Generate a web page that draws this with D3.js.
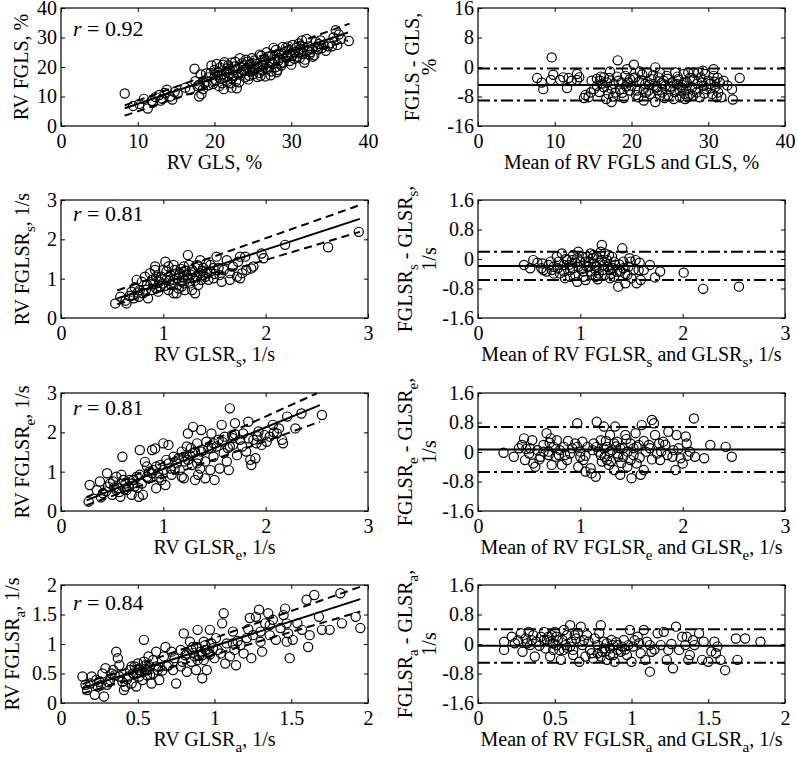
<!DOCTYPE html>
<html><head><meta charset="utf-8">
<script src="https://cdn.jsdelivr.net/npm/d3@7/dist/d3.min.js"></script>
<style>
body{margin:0;background:#fff}
svg text{font-family:"Liberation Serif","Times New Roman",Times,"DejaVu Serif",serif;fill:#000;white-space:pre}
</style>
</head><body>
<svg id="c" width="797" height="757" font-family="Liberation Serif, Times New Roman, serif"></svg>
<script>
// ---------------- DATA ----------------
// Panel 1: RV GLS (x) vs RV FGLS (y), %
const glsPts = [[8.3,11.0],[9.4,6.8],[10.2,7.5],[10.8,9.2],[11.3,5.9],[11.8,8.5],[12.3,9.8],[12.8,10.5],[13.2,9.2],[13.5,11.2],[13.8,12.3],[14.2,10.0],[14.5,9.0],[13.0,8.6],[12.0,7.9],[14.8,11.5],[15.2,11.0],
[16.2,13.0],[16.8,12.2],[17.4,19.4],[17.8,13.5],[18.0,10.0],[18.3,10.8],[18.5,12.5],[18.2,17.5],[18.7,14.5],[19.0,15.0],[19.2,16.5],[18.9,17.8],[17.5,15.2],[18.0,14.0],
[19.6,20.5],[20.0,19.0],[20.3,21.0],[20.5,17.2],[20.8,16.0],[21.0,14.5],[21.2,12.5],[21.5,18.5],[21.8,20.5],[22.0,19.2],[22.2,21.5],[20.2,15.5],[19.8,14.2],[20.6,13.5],[21.4,16.5],[22.5,17.0],[22.8,15.2],[22.2,13.0],[22.9,12.8],[23.3,23.0],[23.0,19.5],[23.5,18.0],[23.8,20.5],[24.0,16.5],[24.3,21.8],[24.6,18.5],[24.8,20.0],[25.0,17.5],[23.2,14.8],[25.3,19.2],[25.5,21.0],[25.8,18.0],[26.0,17.0],[26.3,20.5],[26.5,22.5],[26.8,25.0],[27.0,23.5],[27.2,21.5],[27.5,24.0],[27.8,22.5],[28.0,20.0],[28.2,19.0],[28.0,25.8],[28.5,23.0],[28.8,24.5],[29.0,21.5],[29.3,26.5],[29.5,24.0],[29.8,22.0],[30.0,20.8],[30.2,27.5],[30.5,25.0],[30.8,23.5],[31.0,28.0],[31.2,26.0],[31.5,24.5],[31.8,22.5],[32.0,29.5],[32.3,27.0],[32.5,25.0],[32.8,23.5],[33.2,28.5],[33.5,26.0],[33.8,29.0],[34.2,27.5],[34.5,25.5],[35.0,28.0],[35.3,27.0],[35.8,32.5],[36.2,31.0],[36.5,29.5],[37.5,28.8],[36.0,27.5],
[20.7,19.8],[21.1,20.8],[21.9,17.8],[22.4,18.8],[23.7,19.0],[24.1,22.5],[24.5,17.0],[25.2,22.2],[25.7,20.3],[26.2,18.8],[26.6,16.8],[27.1,20.0],[27.4,18.5],[27.7,26.5],[28.3,22.0],[28.7,20.5],[29.1,25.0],[29.6,27.0],[30.4,22.8],[31.4,29.0],[31.7,21.5],[32.7,26.0],[33.0,24.0],[27.3,17.2],[28.1,18.2],[24.4,15.8],[26.1,23.8],[26.9,19.3],[25.9,24.2],[19.5,18.0],[20.1,17.5],[21.7,15.0],[21.3,21.6],[23.6,21.3],[24.9,23.0],[22.6,20.2],[28.9,26.8],[30.6,26.5],[29.9,24.5],[31.1,23.0],[32.1,25.8],[33.6,27.8],[34.8,27.0],[35.5,30.0],
[19.2,13.8],[20.4,18.2],[21.0,17.5],[21.6,19.5],[22.3,16.2],[22.7,21.8],[23.1,17.4],[23.9,18.8],[24.6,20.9],[25.1,18.9],[25.6,16.6],[26.4,21.7],[26.7,19.8],[27.6,21.0],[28.4,24.6],[28.6,21.2],[29.4,23.2],[30.1,23.7],[30.9,25.6],[31.6,26.8],[32.4,24.2],[33.3,26.9],[34.0,26.4],[24.2,19.7],[22.1,14.5]];
const glsFit = [[8.3,6.0],[37.4,31.7]];
const glsHi = [[8.3,7.0],[37.6,34.7]];
const glsLo = [[8.3,3.5],[37.4,29.0]];

// Panel 2: Bland-Altman GLS (mean, difference), %
const glsBA = [[7.7,-3.0],[8.3,-4.2],[8.5,-6.0],[9.6,2.6],[9.8,-2.1],[9.5,-3.5],[10.7,-3.5],[11.1,-2.8],[11.6,-5.7],[11.8,-3.0],[12.2,-3.7],[12.9,-1.9],[12.9,-3.5],[13.8,-8.4],[14.4,-8.2],[14.7,-6.9],[15.1,-6.0],[14.8,-3.7],[15.5,-5.1],[15.9,-3.7],[16.4,-2.8],[16.7,-8.7],[17.0,-7.3],[17.4,-9.5],[17.2,-1.2],[17.7,-4.6],[18.1,-2.6],[18.2,1.8],[18.5,-6.0],[19.0,-8.4],[19.4,-0.6],[19.6,-4.2],[19.8,-6.4],[20.3,0.6],[20.5,-2.8],[20.9,-8.2],[21.1,-1.2],[21.6,-9.1],[21.8,-4.6],[22.0,-1.5],[22.2,-6.4],[22.6,-3.3],[23.1,-0.1],[23.1,-9.5],[23.3,-5.5],[23.7,-7.7],[24.2,-3.7],[24.6,-2.4],[25.0,-6.0],[25.5,-8.7],[25.7,-1.5],[25.9,-4.6],[26.3,-6.4],[26.8,-1.9],[27.0,-8.7],[27.2,-4.2],[27.4,-1.5],[27.6,-7.3],[28.1,-3.3],[28.3,-6.0],[28.7,-1.5],[28.9,-8.2],[29.2,-4.2],[29.6,-1.9],[29.8,-6.0],[30.0,-3.7],[30.5,-7.3],[30.7,-2.4],[30.9,-5.5],[31.1,-8.2],[31.5,-4.2],[33.1,-6.0],[33.2,-8.8],[34.1,-3.0],
[16.4,-5.5],[16.8,-4.2],[17.9,-6.9],[18.3,-3.7],[19.2,-2.4],[20.0,-5.1],[20.7,-6.4],[21.3,-3.7],[22.4,-7.3],[22.9,-5.1],[23.5,-2.8],[24.0,-6.9],[24.4,-5.1],[24.8,-7.7],[25.3,-4.2],[26.1,-3.3],[26.5,-5.5],[26.9,-7.3],[27.3,-8.2],[27.9,-5.5],[28.5,-6.9],[29.4,-5.1],[30.2,-4.6],[31.3,-6.9],[31.7,-8.2],[32.0,-3.7],[19.8,-3.3],[21.6,-6.0],[23.7,-1.5],[26.3,-8.2],[28.1,-1.5],[26.8,-4.2],[18.7,-4.2],[17.4,-6.0],[16.0,-2.6],[15.5,-3.2],[29.3,-1.0],[30.7,-0.6],
[15.8,-6.8],[16.2,-4.5],[17.1,-3.0],[17.6,-8.0],[18.8,-7.0],[19.3,-5.3],[20.2,-3.0],[20.6,-7.6],[21.0,-4.0],[21.4,-2.0],[21.9,-7.0],[22.3,-4.8],[22.8,-2.2],[23.4,-6.3],[23.9,-4.4],[24.3,-8.4],[24.7,-3.2],[25.1,-5.3],[25.6,-6.8],[26.0,-2.6],[26.6,-4.9],[27.1,-6.2],[27.6,-3.0],[28.0,-7.8],[28.6,-4.5],[29.0,-2.8],[29.5,-7.2],[30.3,-5.8],[30.8,-4.0],[31.2,-2.9],[32.5,-5.0],[13.2,-2.8],[14.0,-7.6]];
const glsLines = [-4.9, -0.4, -9.1]; // mean, upper LoA, lower LoA

// Panel 3: RV GLSRs vs RV FGLSRs, 1/s
const glsrsPts = [[0.53,0.37],[0.58,0.54],[0.63,0.44],[0.67,0.56],[0.69,0.67],[0.72,0.78],[0.74,0.97],[0.77,0.71],[0.80,0.63],[0.84,0.84],[0.85,0.50],[0.89,0.71],[0.90,0.88],[0.93,1.05],[0.95,0.67],[0.97,0.80],[1.00,1.22],[1.02,1.43],[1.03,0.97],[1.05,0.71],[1.07,1.09],[1.08,0.84],[1.10,0.63],[1.11,1.22],[1.13,1.01],[1.15,0.75],[1.16,1.14],[1.18,0.92],[1.20,1.31],[1.21,0.71],[1.23,1.09],[1.24,1.60],[1.26,0.88],[1.28,1.22],[1.29,1.01],[1.31,0.63],[1.33,1.35],[1.34,0.84],[1.36,1.14],[1.37,0.97],[1.39,1.27],[1.41,1.05],[1.42,1.39],[1.46,1.18],[1.49,1.01],[1.52,1.56],[1.54,1.27],[1.55,1.09],[1.57,0.92],[1.62,1.47],[1.65,1.14],[1.72,1.05],[1.73,1.43],[1.75,1.56],[1.77,1.14],[1.80,1.56],[1.86,1.26],[1.88,1.31],[1.96,1.64],[1.98,1.52],[2.19,1.86],[2.61,1.80],[2.91,2.19],
[0.79,0.92],[0.82,1.05],[0.87,1.14],[0.92,1.22],[0.98,1.05],[1.00,0.88],[1.03,1.18],[1.10,1.35],[1.15,1.09],[1.20,0.88],[1.24,1.01],[1.29,1.18],[1.34,1.31],[1.39,1.09],[1.44,0.97],[1.49,1.27],[1.59,1.22],[1.68,1.31],[1.05,1.31],[0.89,0.97],[0.93,0.75],[1.10,0.97],[1.18,0.80],[1.33,1.05],[1.28,0.71],[1.13,0.63],[0.76,0.54],[0.71,0.50],[0.64,0.37],[0.92,1.31],[1.36,1.47],[1.46,1.35],[1.65,0.97],[1.81,1.22],[1.75,1.01],
[0.83,0.72],[0.96,0.92],[1.06,0.95],[1.12,1.12],[1.19,1.05],[1.22,1.2],[1.27,1.1],[1.31,0.95],[1.38,1.2],[1.43,1.15],[1.02,0.82],[0.91,0.85],[1.25,1.35],[1.17,1.25],[0.75,0.65],[1.5,1.12]];
const glsrsFit = [[0.55,0.5],[2.92,2.52]];
const glsrsHi = [[0.55,0.7],[2.92,2.87]];
const glsrsLo = [[0.55,0.35],[2.92,2.19]];

// Panel 4: Bland-Altman GLSRs
const glsrsBA = [[0.45,-0.16],[0.51,-0.25],[0.54,-0.03],[0.58,-0.10],[0.64,-0.30],[0.67,-0.34],[0.71,-0.07],[0.74,-0.21],[0.77,0.06],[0.80,-0.39],[0.82,0.15],[0.84,-0.16],[0.85,-0.52],[0.87,-0.03],[0.90,-0.30],[0.93,0.11],[0.95,-0.43],[0.97,-0.62],[0.98,0.20],[1.00,-0.07],[1.03,-0.34],[1.05,-0.57],[1.07,0.06],[1.08,-0.21],[1.10,0.15],[1.11,-0.43],[1.13,-0.12],[1.15,-0.30],[1.16,0.06],[1.20,0.20],[1.21,0.38],[1.23,-0.16],[1.24,-0.43],[1.26,-0.03],[1.29,-0.30],[1.31,0.06],[1.33,-0.48],[1.34,-0.16],[1.37,-0.75],[1.39,-0.34],[1.41,0.29],[1.42,-0.07],[1.44,-0.66],[1.47,-0.21],[1.50,-0.52],[1.54,-0.03],[1.55,-0.66],[1.57,-0.30],[1.59,-0.57],[1.62,-0.30],[1.68,-0.16],[1.73,-0.50],[1.78,-0.34],[2.01,-0.37],[2.20,-0.81],[2.55,-0.75],
[0.74,-0.39],[0.79,-0.07],[0.89,-0.16],[0.92,-0.03],[0.98,-0.21],[1.02,0.06],[1.05,-0.07],[1.10,-0.34],[1.16,-0.21],[1.18,-0.39],[1.21,-0.03],[1.27,-0.21],[1.33,-0.07],[1.36,-0.34],[1.46,-0.43],[1.49,-0.07],[1.52,-0.30],[0.97,0.02],[1.13,0.11],[1.24,0.15],[0.90,-0.48],[1.03,-0.48],[0.69,-0.16],[0.63,-0.12],[0.84,-0.34],[0.93,-0.25],[1.08,-0.07],[1.15,-0.48],[1.29,-0.52],[1.42,-0.25],
[0.78,-0.25],[0.86,0.0],[0.95,-0.1],[1.01,-0.28],[1.06,-0.2],[1.12,0.02],[1.19,-0.1],[1.22,-0.3],[1.28,0.1],[1.32,-0.25],[1.38,-0.15],[1.44,-0.4],[1.48,0.02],[1.58,-0.1],[0.62,-0.25],[0.72,-0.3],[1.17,-0.55],[1.30,-0.4]];
const glsrsLines = [-0.19, 0.2, -0.57];

// Panel 5: RV GLSRe vs RV FGLSRe, 1/s
const glsrePts = [[0.27,0.24],[0.28,0.66],[0.35,0.53],[0.38,0.75],[0.41,0.45],[0.45,0.96],[0.46,0.62],[0.50,0.41],[0.51,0.75],[0.54,0.87],[0.56,0.58],[0.58,0.36],[0.59,0.92],[0.60,1.38],[0.63,0.70],[0.64,0.53],[0.67,0.79],[0.69,0.41],[0.72,0.62],[0.74,0.87],[0.76,0.36],[0.77,1.55],[0.79,0.70],[0.80,0.41],[0.82,1.25],[0.84,1.13],[0.85,0.83],[0.89,1.55],[0.90,1.04],[0.92,1.59],[0.93,0.58],[0.95,0.96],[0.97,1.17],[0.98,0.79],[1.00,1.72],[1.02,0.66],[1.03,1.30],[1.05,1.68],[1.07,1.08],[1.08,0.92],[1.10,1.38],[1.13,1.21],[1.16,1.04],[1.18,1.51],[1.20,0.83],[1.21,1.26],[1.23,1.64],[1.24,1.97],[1.26,1.42],[1.28,1.17],[1.29,2.14],[1.31,0.79],[1.33,1.72],[1.34,1.34],[1.36,1.08],[1.37,2.06],[1.39,1.55],[1.41,1.26],[1.42,1.76],[1.46,1.04],[1.47,1.97],[1.49,1.38],[1.50,0.79],[1.52,1.64],[1.55,1.08],[1.57,2.19],[1.59,1.47],[1.62,1.26],[1.64,1.04],[1.65,2.61],[1.67,1.93],[1.68,1.68],[1.70,2.23],[1.72,1.42],[1.75,1.81],[1.78,1.97],[1.81,1.51],[1.83,2.27],[1.85,1.30],[1.86,1.17],[1.88,1.81],[1.90,1.34],[1.93,2.02],[1.96,1.68],[1.99,1.93],[2.04,1.89],[2.07,2.19],[2.11,1.97],[2.16,1.81],[2.17,1.72],[2.21,2.40],[2.29,2.10],[2.35,2.48],[2.55,2.44],
[0.48,0.70],[0.54,0.53],[0.61,0.79],[0.66,0.62],[0.71,0.79],[0.77,0.92],[0.84,0.87],[0.89,0.96],[0.93,1.13],[1.00,1.04],[1.05,1.21],[1.11,1.08],[1.15,1.34],[1.20,1.38],[1.24,1.30],[1.29,1.47],[1.33,1.21],[1.37,1.51],[1.44,1.59],[1.49,1.72],[1.54,1.81],[1.60,1.89],[1.65,1.64],[1.68,1.85],[1.77,1.64],[1.83,1.85],[1.91,1.72],[2.01,1.76],[1.34,0.92],[1.41,0.83],[1.18,0.87],
[0.39,0.35],[0.44,0.5],[0.52,0.6],[0.57,0.48],[0.62,0.55],[0.7,0.7],[0.75,0.6],[0.86,1.0],[0.96,0.85],[1.27,1.6],[1.31,1.5],[1.47,1.6],[1.58,1.75],[1.63,1.6],[1.7,1.95],[1.92,1.9],[2.08,2.0],[2.13,2.1]];
const glsreFit = [[0.25,0.27],[2.53,2.69]];
const glsreHi = [[0.25,0.35],[2.5,2.99]];
const glsreLo = [[0.25,0.15],[2.53,2.27]];

// Panel 6: Bland-Altman GLSRe
const glsreBA = [[0.25,-0.02],[0.35,-0.13],[0.40,0.10],[0.43,0.19],[0.45,0.37],[0.46,-0.22],[0.50,-0.04],[0.53,0.32],[0.54,-0.31],[0.56,-0.40],[0.58,0.05],[0.61,-0.13],[0.64,0.19],[0.67,0.51],[0.69,0.01],[0.71,0.37],[0.72,-0.35],[0.74,0.14],[0.76,-0.13],[0.77,0.32],[0.80,0.05],[0.82,-0.35],[0.85,-0.08],[0.87,-0.22],[0.92,0.10],[0.95,0.23],[0.97,0.78],[0.98,-0.40],[1.00,0.01],[1.02,0.28],[1.03,-0.22],[1.05,-0.53],[1.07,0.14],[1.10,-0.44],[1.11,-0.58],[1.13,0.23],[1.15,-0.67],[1.16,0.82],[1.18,0.01],[1.20,0.32],[1.21,-0.26],[1.23,0.69],[1.24,-0.13],[1.26,0.14],[1.28,-0.35],[1.29,0.46],[1.31,0.05],[1.33,-0.49],[1.34,0.69],[1.36,0.28],[1.37,-0.13],[1.39,-0.62],[1.42,0.10],[1.44,0.46],[1.46,-0.40],[1.49,0.23],[1.50,-0.71],[1.52,-0.08],[1.54,0.51],[1.55,-0.31],[1.57,0.19],[1.59,-0.62],[1.60,0.73],[1.62,-0.49],[1.64,0.01],[1.67,0.19],[1.70,0.87],[1.72,0.78],[1.73,0.46],[1.75,-0.04],[1.77,0.23],[1.78,-0.22],[1.81,0.28],[1.85,-0.08],[1.86,0.55],[1.90,-0.13],[1.93,-0.49],[1.94,0.46],[1.98,-0.17],[2.00,-0.31],[2.03,0.42],[2.04,0.23],[2.07,0.01],[2.11,0.91],[2.12,-0.13],[2.21,-0.17],[2.27,0.19],[2.42,0.14],[2.48,-0.13],
[1.16,0.14],[1.20,-0.08],[1.23,0.10],[1.26,-0.22],[1.29,0.01],[1.33,0.23],[1.36,-0.04],[1.39,0.10],[1.42,-0.13],[1.46,0.01],[1.49,-0.22],[0.97,0.14],[1.00,-0.13],[0.90,-0.04],[0.84,0.14],[0.79,-0.08],[0.69,-0.08],[0.64,0.01],[0.51,0.10],[1.68,0.10],[1.79,0.01],[1.91,0.05],[1.55,0.14],
[0.47,0.08],[0.6,-0.2],[0.7,0.25],[0.88,0.3],[1.05,-0.1],[1.12,0.05],[1.25,0.3],[1.3,-0.25],[1.35,0.15],[1.4,-0.3],[1.45,0.35],[1.52,0.1],[1.58,-0.15],[1.62,0.3],[1.7,-0.2],[1.83,0.2],[1.96,0.1],[2.05,-0.1]];
const glsreLines = [0.07, 0.68, -0.54];

// Panel 7: RV GLSRa vs RV FGLSRa, 1/s
const glsraPts = [[0.14,0.45],[0.16,0.31],[0.17,0.22],[0.20,0.45],[0.22,0.14],[0.23,0.39],[0.24,0.28],[0.27,0.50],[0.28,0.11],[0.29,0.59],[0.30,0.31],[0.32,0.39],[0.34,0.56],[0.35,0.47],[0.36,0.87],[0.37,0.76],[0.38,0.64],[0.40,0.36],[0.41,0.22],[0.42,0.28],[0.44,0.45],[0.45,0.56],[0.46,0.33],[0.47,0.50],[0.48,0.62],[0.49,0.28],[0.50,0.67],[0.51,0.56],[0.53,0.39],[0.54,1.07],[0.55,0.64],[0.56,0.47],[0.57,0.79],[0.58,0.62],[0.59,0.33],[0.60,0.73],[0.62,0.87],[0.63,0.56],[0.64,0.39],[0.67,0.79],[0.68,0.95],[0.70,0.64],[0.72,0.87],[0.73,0.56],[0.74,0.76],[0.75,0.33],[0.78,0.90],[0.79,0.70],[0.80,1.18],[0.81,0.81],[0.82,0.53],[0.84,1.04],[0.85,0.70],[0.86,0.95],[0.87,0.79],[0.88,0.56],[0.89,1.24],[0.91,0.87],[0.92,0.42],[0.93,0.73],[0.94,0.98],[0.95,0.56],[0.96,0.84],[0.97,1.24],[0.99,0.93],[1.00,0.76],[1.01,1.10],[1.04,0.84],[1.05,1.35],[1.06,1.52],[1.07,0.67],[1.08,1.01],[1.10,0.79],[1.12,1.21],[1.13,0.90],[1.14,0.64],[1.17,0.98],[1.19,0.84],[1.21,1.10],[1.23,1.44],[1.24,0.76],[1.25,1.15],[1.27,1.46],[1.29,1.58],[1.30,1.21],[1.31,0.87],[1.33,1.35],[1.35,1.52],[1.36,1.15],[1.38,1.41],[1.40,1.07],[1.43,1.27],[1.45,1.49],[1.46,1.60],[1.47,1.35],[1.48,1.18],[1.49,0.76],[1.51,1.07],[1.57,1.24],[1.60,1.75],[1.61,0.95],[1.62,1.15],[1.65,1.83],[1.68,1.46],[1.70,1.24],[1.75,1.24],[1.82,1.86],[1.83,1.35],[1.92,1.46],[1.95,1.27],
[0.51,0.45],[0.56,0.56],[0.60,0.50],[0.49,0.50],[0.46,0.62],[0.54,0.70],[0.82,0.84],[0.85,0.90],[0.88,0.95],[0.92,0.81],[0.93,1.04],[0.95,0.90],[0.98,1.01],[0.89,0.73],[0.19,0.33],[0.25,0.36],[0.33,0.50],[0.69,0.62],[0.78,0.62],[1.12,1.01],[1.36,1.32],[1.47,1.04],[1.30,1.04],[1.54,1.35],
[0.38,0.45],[0.43,0.4],[0.52,0.52],[0.55,0.58],[0.58,0.48],[0.62,0.62],[0.66,0.55],[0.86,0.85],[0.9,0.8],[0.94,0.9],[0.97,0.82],[1.02,0.9],[0.26,0.3],[0.31,0.35],[1.15,1.05],[1.22,1.25]];
const glsraFit = [[0.14,0.25],[1.95,1.76]];
const glsraHi = [[0.14,0.32],[1.95,1.97]];
const glsraLo = [[0.14,0.16],[1.95,1.55]];

// Panel 8: Bland-Altman GLSRa
const glsraBA = [[0.17,0.06],[0.17,-0.16],[0.22,0.20],[0.24,0.02],[0.28,0.29],[0.29,-0.21],[0.31,0.15],[0.33,0.33],[0.34,-0.03],[0.36,0.24],[0.37,-0.34],[0.38,0.06],[0.41,0.20],[0.43,0.33],[0.44,-0.12],[0.45,0.11],[0.47,-0.34],[0.48,0.24],[0.49,0.02],[0.50,0.33],[0.51,0.20],[0.53,-0.16],[0.54,-0.43],[0.55,0.11],[0.56,0.38],[0.57,-0.03],[0.58,0.24],[0.60,0.51],[0.61,0.06],[0.62,-0.16],[0.64,0.15],[0.66,-0.48],[0.67,0.47],[0.68,-0.03],[0.70,-0.34],[0.71,0.24],[0.73,-0.16],[0.75,-0.39],[0.78,-0.03],[0.79,0.29],[0.80,0.51],[0.81,-0.21],[0.82,0.06],[0.84,-0.43],[0.86,-0.12],[0.87,0.11],[0.88,-0.30],[0.89,-0.48],[0.91,-0.03],[0.93,-0.21],[0.95,0.11],[0.97,-0.30],[0.99,0.38],[1.00,-0.48],[1.01,-0.07],[1.04,0.20],[1.06,-0.25],[1.08,0.38],[1.09,-0.43],[1.10,0.06],[1.12,-0.75],[1.13,-0.21],[1.17,0.29],[1.19,-0.03],[1.21,0.33],[1.23,-0.43],[1.24,-0.16],[1.27,-0.66],[1.29,0.47],[1.31,-0.16],[1.33,0.20],[1.35,-0.03],[1.36,0.20],[1.37,-0.43],[1.38,-0.30],[1.41,-0.03],[1.44,0.29],[1.46,-0.43],[1.47,0.06],[1.50,-0.48],[1.54,0.06],[1.55,-0.25],[1.56,-0.07],[1.58,-0.43],[1.61,-0.71],[1.68,0.15],[1.69,-0.43],[1.74,0.15],[1.84,0.06],
[0.47,0.06],[0.51,-0.03],[0.56,-0.16],[0.43,0.11],[0.60,-0.07],[0.63,0.24],[0.72,0.06],[0.74,-0.25],[0.82,-0.12],[0.84,0.02],[0.91,-0.16],[0.86,-0.30],[0.94,-0.07],[0.98,-0.03],[0.78,-0.25],[0.49,-0.16],[0.32,0.02],[0.88,-0.03],[0.80,-0.34],[1.05,0.02],[1.12,-0.03],
[0.26,0.1],[0.35,0.1],[0.4,-0.05],[0.46,0.2],[0.52,0.1],[0.58,-0.1],[0.65,0.3],[0.69,0.1],[0.76,0.15],[0.83,-0.2],[0.9,0.05],[0.96,-0.15],[1.02,0.1],[1.15,-0.15],[1.26,0.0],[1.4,0.1],[1.52,-0.2],[0.62,-0.3]];
const glsraLines = [-0.05, 0.40, -0.51];

// Axis ticks and annotation values
const scatterTicks30 = [0,1,2,3];
const baTicks16 = [-1.6,-0.8,0,0.8,1.6];
const rTexts = ["0.92","0.81","0.81","0.84"];

const rows = [
  {sc:{pts:glsPts,fit:glsFit,hi:glsHi,lo:glsLo,xd:[0,40],xt:[0,10,20,30,40],yd:[0,40],yt:[0,10,20,30,40],
       xl:"RV GLS, %", yl:"RV FGLS, %"},
   ba:{pts:glsBA,lines:glsLines,xd:[0,40],xt:[0,10,20,30,40],yd:[-16,16],yt:[-16,-8,0,8,16],
       xl:"Mean of RV FGLS and GLS, %", yl:["FGLS - GLS,","%"]}},
  {sc:{pts:glsrsPts,fit:glsrsFit,hi:glsrsHi,lo:glsrsLo,xd:[0,3],xt:scatterTicks30,yd:[0,3],yt:scatterTicks30,
       xl:"RV GLSR_s, 1/s", yl:"RV FGLSR_s, 1/s"},
   ba:{pts:glsrsBA,lines:glsrsLines,xd:[0,3],xt:scatterTicks30,yd:[-1.6,1.6],yt:baTicks16,
       xl:"Mean of RV FGLSR_s and GLSR_s, 1/s", yl:["FGLSR_s - GLSR_s,","1/s"]}},
  {sc:{pts:glsrePts,fit:glsreFit,hi:glsreHi,lo:glsreLo,xd:[0,3],xt:scatterTicks30,yd:[0,3],yt:scatterTicks30,
       xl:"RV GLSR_e, 1/s", yl:"RV FGLSR_e, 1/s"},
   ba:{pts:glsreBA,lines:glsreLines,xd:[0,3],xt:scatterTicks30,yd:[-1.6,1.6],yt:baTicks16,
       xl:"Mean of RV FGLSR_e and GLSR_e, 1/s", yl:["FGLSR_e - GLSR_e,","1/s"]}},
  {sc:{pts:glsraPts,fit:glsraFit,hi:glsraHi,lo:glsraLo,xd:[0,2],xt:[0,0.5,1,1.5,2],yd:[0,2],yt:[0,0.5,1,1.5,2],
       xl:"RV GLSR_a, 1/s", yl:"RV FGLSR_a, 1/s"},
   ba:{pts:glsraBA,lines:glsraLines,xd:[0,2],xt:[0,0.5,1,1.5,2],yd:[-1.6,1.6],yt:baTicks16,
       xl:"Mean of RV FGLSR_a and GLSR_a, 1/s", yl:["FGLSR_a - GLSR_a,","1/s"]}}
];

// ---------------- LAYOUT ----------------
const FONT = "'Liberation Serif', 'Times New Roman', Times, serif";
const svg = d3.select("#c");
svg.append("rect").attr("width",797).attr("height",757).attr("fill","#fff");
const PW = 307, PH = 118;
const colX = [61, 478];
const rowY = [8, 200, 393, 585];
const rBase = [28, 21, 22, 25];
const leftLabelX = [28, 29, 29, 19];
const FS = 20;

function rich(t, str){
  t.attr("font-family", FONT);
  const parts = str.split(/_(\w)/);
  let down = false;
  parts.forEach((s,i)=>{
    if(i%2===1){ t.append("tspan").attr("dy",6).attr("font-size",15).text(s); down=true; }
    else if(s.length){ const ts=t.append("tspan").text(s); if(down){ ts.attr("dy",-6); down=false; } }
  });
}

function frame(g, p){
  const x = d3.scaleLinear().domain(p.xd).range([0,PW]);
  const y = d3.scaleLinear().domain(p.yd).range([PH,0]);
  const fmt = d => String(d);
  const ax = [
    g.append("g").attr("transform",`translate(0,${PH})`).call(d3.axisBottom(x).tickValues(p.xt).tickFormat(fmt).tickSize(-4).tickSizeOuter(0).tickPadding(8)),
    g.append("g").call(d3.axisLeft(y).tickValues(p.yt).tickFormat(fmt).tickSize(-4).tickSizeOuter(0).tickPadding(4)),
    g.append("g").call(d3.axisTop(x).tickValues(p.xt).tickFormat("").tickSize(-4).tickSizeOuter(0)),
    g.append("g").attr("transform",`translate(${PW},0)`).call(d3.axisRight(y).tickValues(p.yt).tickFormat("").tickSize(-4).tickSizeOuter(0))
  ];
  ax.forEach(a=>{
    a.attr("font-family",FONT).attr("font-size",FS);
    a.select(".domain").remove();
    a.selectAll(".tick line").attr("stroke","#000").attr("stroke-width",1);
    a.selectAll(".tick text").attr("font-family",FONT).attr("font-size",FS).attr("fill","#000");
  });
  g.append("rect").attr("width",PW).attr("height",PH).attr("fill","none").attr("stroke","#000").attr("stroke-width",1.2);
  return {x,y};
}

function points(g, pts, x, y){
  g.append("g").selectAll("circle").data(pts).join("circle")
    .attr("cx",d=>x(d[0])).attr("cy",d=>y(d[1])).attr("r",4.6)
    .attr("fill","none").attr("stroke","#000").attr("stroke-width",1.2);
}

rows.forEach((r,i)=>{
  // ----- scatter panel -----
  const sp = r.sc;
  const g = svg.append("g").attr("transform",`translate(${colX[0]},${rowY[i]})`);
  const {x,y} = frame(g, sp);
  points(g, sp.pts, x, y);
  const line = d3.line().x(d=>x(d[0])).y(d=>y(d[1]));
  g.append("path").datum(sp.fit).attr("d",line).attr("stroke","#000").attr("stroke-width",2).attr("fill","none");
  [sp.hi, sp.lo].forEach(l=>g.append("path").datum(l).attr("d",line).attr("stroke","#000").attr("stroke-width",2).attr("stroke-dasharray","8,5").attr("fill","none"));
  const rt = g.append("text").attr("x",12).attr("y",rBase[i]).attr("font-size",22).attr("font-family",FONT);
  rt.append("tspan").attr("font-style","italic").text("r");
  rt.append("tspan").text(" = " + rTexts[i]);
  const xt = g.append("text").attr("x",PW/2).attr("y",PH+43).attr("text-anchor","middle").attr("font-size",FS);
  rich(xt, sp.xl);
  const yt = svg.append("text").attr("transform",`translate(${leftLabelX[i]},${rowY[i]+PH/2}) rotate(-90)`).attr("text-anchor","middle").attr("font-size",FS);
  rich(yt, sp.yl);

  // ----- Bland-Altman panel -----
  const bp = r.ba;
  const g2 = svg.append("g").attr("transform",`translate(${colX[1]},${rowY[i]})`);
  const s2 = frame(g2, bp);
  points(g2, bp.pts, s2.x, s2.y);
  const [mean, up, lo] = bp.lines;
  g2.append("line").attr("x1",0).attr("x2",PW).attr("y1",s2.y(mean)).attr("y2",s2.y(mean)).attr("stroke","#000").attr("stroke-width",2);
  [up, lo].forEach(v=>g2.append("line").attr("x1",0).attr("x2",PW).attr("y1",s2.y(v)).attr("y2",s2.y(v))
     .attr("stroke","#000").attr("stroke-width",2).attr("stroke-dasharray","12,4,3,4"));
  const xt2 = g2.append("text").attr("x",PW/2).attr("y",PH+43).attr("text-anchor","middle").attr("font-size",FS);
  rich(xt2, bp.xl);
  const yb = i===0 ? [419,436] : [412,436];
  bp.yl.forEach((s,k)=>{
    const t = svg.append("text").attr("transform",`translate(${yb[k]},${rowY[i]+PH/2}) rotate(-90)`).attr("text-anchor","middle").attr("font-size",FS);
    rich(t, s);
  });
});
</script>
</body></html>
